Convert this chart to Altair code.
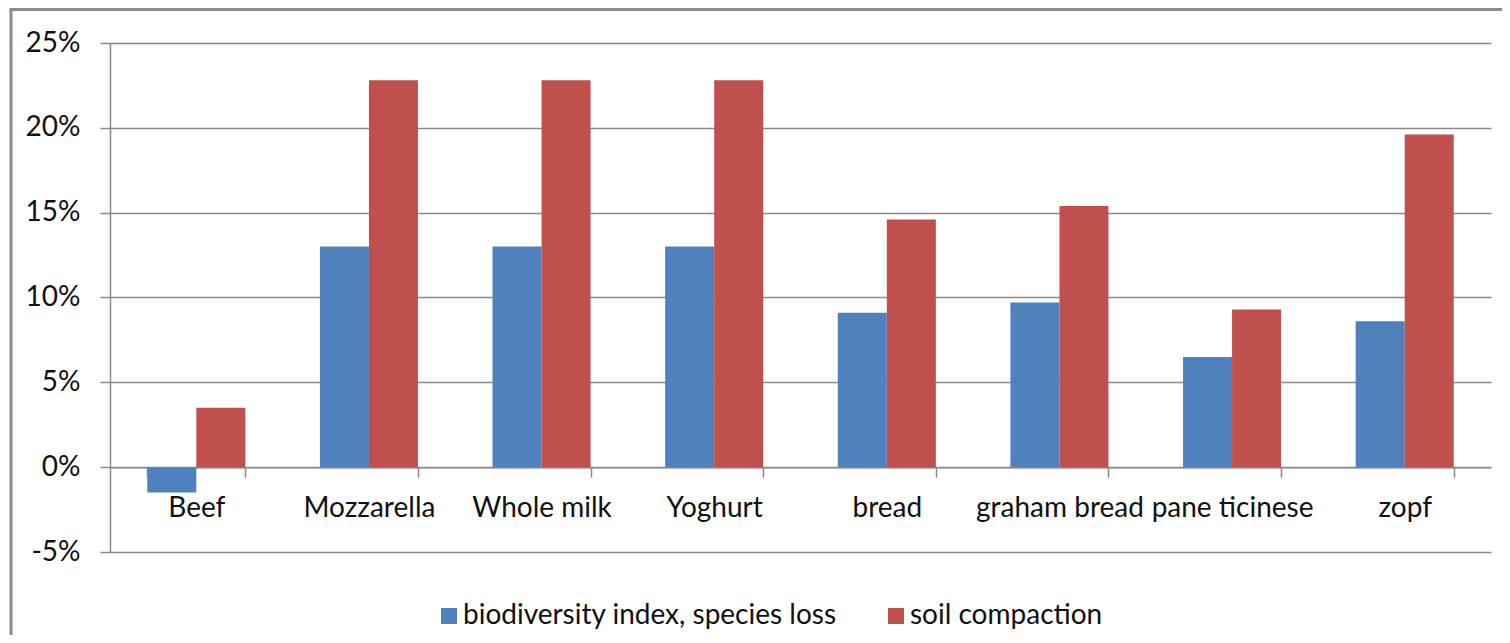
import altair as alt
import pandas as pd

categories = ["Beef", "Mozzarella", "Whole milk", "Yoghurt", "bread",
              "graham bread", "pane ticinese", "zopf"]
series_names = ["biodiversity index, species loss", "soil compaction"]
biodiversity = [-0.015, 0.130, 0.130, 0.130, 0.091, 0.097, 0.065, 0.086]
soil_compaction = [0.035, 0.228, 0.228, 0.228, 0.146, 0.154, 0.093, 0.196]
y_ticks = [-0.05, 0.0, 0.05, 0.10, 0.15, 0.20, 0.25]

rows = []
for c, b, s in zip(categories, biodiversity, soil_compaction):
    rows.append({"cat": c, "series": series_names[0], "value": b})
    rows.append({"cat": c, "series": series_names[1], "value": s})
df = pd.DataFrame(rows)

FONT = "Lato"
FS = 28
GRID = "#8a8a8a"
W, H = 1381, 509

bars = alt.Chart(df).mark_bar().encode(
    x=alt.X("cat:N", sort=categories,
            scale=alt.Scale(paddingInner=0.432, paddingOuter=0.216),
            axis=alt.Axis(title=None, labelAngle=0, offset=-H * 5 / 30,
                          tickBand="extent", domainColor=GRID, tickColor=GRID,
                          domainWidth=1.5, tickWidth=1.5, tickSize=10,
                          labelFontSize=FS, labelPadding=17, labelFont=FONT,
                          labelColor="#111", labelLimit=0)),
    xOffset=alt.XOffset("series:N", sort=series_names,
                        scale=alt.Scale(paddingInner=0, paddingOuter=0)),
    y=alt.Y("value:Q",
            scale=alt.Scale(domain=[-0.05, 0.25], nice=False, zero=False),
            axis=alt.Axis(title=None, values=y_ticks,
                          labelExpr="round(datum.value*100) + '%'",
                          grid=True, gridColor=GRID, gridWidth=1.5,
                          domainColor=GRID, domainWidth=1.5,
                          tickColor=GRID, tickWidth=1.5, tickSize=10,
                          labelFontSize=FS, labelPadding=20, labelFont=FONT,
                          labelColor="#111")),
    color=alt.Color("series:N", sort=series_names,
                    scale=alt.Scale(domain=series_names,
                                    range=["#4F81BD", "#C0504D"]),
                    legend=alt.Legend(title=None, orient="none",
                                      direction="horizontal",
                                      legendX=325, legendY=559,
                                      symbolType="square", symbolSize=256,
                                      symbolStrokeWidth=0,
                                      labelFontSize=FS, labelFont=FONT,
                                      labelColor="#111", columnPadding=45,
                                      labelOffset=0, labelLimit=0)),
)

frame_data = alt.Data(values=[{"k": 1}])
left_border = alt.Chart(frame_data).mark_rule(color="#8c8c8c", strokeWidth=3).encode(
    x=alt.value(-99), y=alt.value(-33.5), y2=alt.value(600))
top_border = alt.Chart(frame_data).mark_rule(color="#8c8c8c", strokeWidth=3).encode(
    x=alt.value(-100.5), x2=alt.value(1420), y=alt.value(-33.5))

chart = alt.layer(left_border, top_border, bars).properties(
    width=W, height=H,
    autosize=alt.AutoSizeParams(type="none"),
    padding={"left": 102, "top": 35, "right": 11, "bottom": 83},
    background="white",
).configure_view(stroke=None)

chart.save("out.html", embed_options={"renderer": "svg", "actions": False})
